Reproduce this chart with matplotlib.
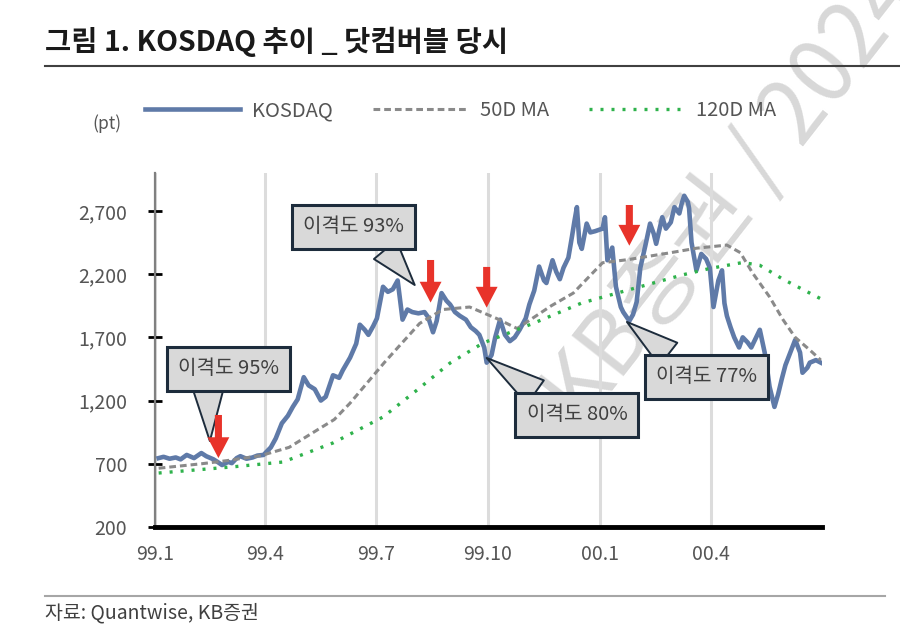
import numpy as np
import pandas as pd
import matplotlib
matplotlib.use('Agg')
import matplotlib.pyplot as plt
import matplotlib.dates as mdates
from matplotlib.lines import Line2D
from matplotlib.ticker import FuncFormatter

plt.rcParams['font.family'] = ['Noto Sans CJK KR', 'DejaVu Sans']

# KOSDAQ index (pt)
kosdaq_dates = [
    '1999-01-04', '1999-01-08', '1999-01-13', '1999-01-18', '1999-01-22', '1999-01-27',
    '1999-02-02', '1999-02-08', '1999-02-12', '1999-02-18', '1999-02-22', '1999-02-25',
    '1999-03-02', '1999-03-05', '1999-03-09', '1999-03-12', '1999-03-17', '1999-03-22',
    '1999-03-26', '1999-03-31', '1999-04-06', '1999-04-10', '1999-04-15', '1999-04-20',
    '1999-04-24', '1999-04-28', '1999-05-03', '1999-05-07', '1999-05-12', '1999-05-17',
    '1999-05-21', '1999-05-27', '1999-06-01', '1999-06-04', '1999-06-10', '1999-06-15',
    '1999-06-18', '1999-06-22', '1999-06-25', '1999-06-29', '1999-07-02', '1999-07-07',
    '1999-07-11', '1999-07-15', '1999-07-19', '1999-07-23', '1999-07-27', '1999-07-31',
    '1999-08-05', '1999-08-10', '1999-08-13', '1999-08-17', '1999-08-20', '1999-08-24',
    '1999-08-28', '1999-08-31', '1999-09-04', '1999-09-08', '1999-09-13', '1999-09-17',
    '1999-09-21', '1999-09-24', '1999-09-28', '1999-09-30', '1999-10-04', '1999-10-07',
    '1999-10-11', '1999-10-15', '1999-10-19', '1999-10-23', '1999-10-27', '1999-11-01',
    '1999-11-04', '1999-11-08', '1999-11-12', '1999-11-16', '1999-11-18', '1999-11-23',
    '1999-11-26', '1999-11-29', '1999-12-02', '1999-12-06', '1999-12-09', '1999-12-11',
    '1999-12-13', '1999-12-15', '1999-12-17', '1999-12-21', '1999-12-24', '1999-12-28',
    '2000-01-03', '2000-01-05', '2000-01-07', '2000-01-11', '2000-01-14', '2000-01-18',
    '2000-01-20', '2000-01-25', '2000-01-28', '2000-01-31', '2000-02-03', '2000-02-07',
    '2000-02-11', '2000-02-14', '2000-02-16', '2000-02-21', '2000-02-24', '2000-02-28',
    '2000-03-02', '2000-03-06', '2000-03-08', '2000-03-10', '2000-03-13', '2000-03-14',
    '2000-03-16', '2000-03-20', '2000-03-24', '2000-03-28', '2000-03-31', '2000-04-03',
    '2000-04-07', '2000-04-10', '2000-04-12', '2000-04-14', '2000-04-17', '2000-04-20',
    '2000-04-24', '2000-04-27', '2000-05-01', '2000-05-04', '2000-05-08', '2000-05-11',
    '2000-05-15', '2000-05-17', '2000-05-19', '2000-05-23', '2000-05-26', '2000-05-29',
    '2000-06-01', '2000-06-05', '2000-06-09', '2000-06-13', '2000-06-15', '2000-06-19',
    '2000-06-21', '2000-06-26', '2000-06-30',
]
kosdaq_vals = [
    745, 755, 740, 750, 735, 770,
    745, 785, 760, 735, 710, 690,
    715, 705, 745, 760, 740, 750,
    765, 770, 830, 900, 1020, 1080,
    1150, 1210, 1385, 1320, 1290, 1200,
    1230, 1400, 1380, 1440, 1540, 1650,
    1800, 1760, 1720, 1790, 1850, 2100,
    2060, 2080, 2150, 1840, 1920, 1900,
    1890, 1900, 1860, 1740, 1830, 2050,
    1990, 1960, 1900, 1870, 1840, 1780,
    1750, 1720, 1620, 1500, 1560, 1700,
    1840, 1720, 1670, 1700, 1760, 1850,
    1960, 2070, 2260, 2150, 2130, 2310,
    2220, 2160, 2250, 2330, 2500, 2620,
    2730, 2450, 2400, 2600, 2530, 2540,
    2560, 2650, 2310, 2410, 2100, 1940,
    1900, 1830, 1880, 1980, 2250, 2420,
    2600, 2520, 2440, 2650, 2560, 2610,
    2730, 2680, 2760, 2820, 2770, 2720,
    2450, 2230, 2360, 2320, 2250, 1940,
    2150, 2230, 1970, 1870, 1780, 1700,
    1620, 1700, 1660, 1620, 1700, 1760,
    1580, 1450, 1310, 1150, 1250, 1370,
    1480, 1580, 1680, 1580, 1420, 1460,
    1500, 1520, 1500,
]

# 50-day moving average
ma50_dates = [
    '1999-01-04', '1999-02-08', '1999-03-01', '1999-03-29', '1999-04-21', '1999-05-17',
    '1999-05-28', '1999-06-10', '1999-07-08', '1999-08-06', '1999-08-25', '1999-09-16',
    '1999-10-08', '1999-10-25', '1999-11-22', '1999-12-10', '1999-12-26', '2000-01-03',
    '2000-01-24', '2000-02-25', '2000-03-20', '2000-04-14', '2000-04-25', '2000-05-05',
    '2000-05-19', '2000-05-30', '2000-06-09', '2000-06-21', '2000-06-30',
]
ma50_vals = [
    665, 700, 725, 765, 830, 985,
    1050, 1180, 1500, 1810, 1920, 1940,
    1850, 1770, 1950, 2050, 2210, 2290,
    2315, 2365, 2405, 2430, 2370, 2210,
    2020, 1840, 1700, 1600, 1520,
]

# 120-day moving average
ma120_dates = [
    '1999-01-04', '1999-03-05', '1999-04-16', '1999-05-27', '1999-07-07', '1999-08-04',
    '1999-08-31', '1999-09-27', '1999-11-08', '1999-12-17', '2000-01-28', '2000-03-09',
    '2000-03-31', '2000-04-27', '2000-05-11', '2000-05-30', '2000-06-30',
]
ma120_vals = [
    627, 675, 714, 865, 1070, 1284,
    1497, 1655, 1814, 1972, 2085, 2195,
    2245, 2292, 2270, 2160, 2005,
]

tick_dates = ['1999-01-01', '1999-04-01', '1999-07-01', '1999-10-01', '2000-01-01', '2000-04-01']
tick_labels = ['99.1', '99.4', '99.7', '99.10', '00.1', '00.4']
y_ticks = [200, 700, 1200, 1700, 2200, 2700]

# callouts: label, text centre (date, pt), tip (date, pt), wedge attach point on box
callout_labels = ['이격도 95%', '이격도 93%', '이격도 80%', '이격도 77%']
callout_text_pos = [('1999-03-02', 1450), ('1999-06-13', 2573), ('1999-12-13', 1086), ('2000-03-28', 1387)]
callout_tip_pos = [('1999-02-15', 880), ('1999-08-02', 2114), ('1999-09-30', 1537), ('2000-01-23', 1822)]
callout_relpos = [(0.3, 0.0), (0.71, 0.0), (0.26, 1.0), (0.28, 1.0)]

# red down arrows: date, top, tip
arrow_dates = ['1999-02-22', '1999-08-15', '1999-09-30', '2000-01-25']
arrow_top = [1086, 2312, 2257, 2747]
arrow_tip = [745, 1975, 1935, 2425]


def to_num(dates):
    return mdates.date2num(pd.to_datetime(dates))


fig = plt.figure(figsize=(9, 6.42), dpi=100)
ax = fig.add_axes([155 / 900, 1 - 527 / 642, 667 / 900, 354 / 642])
ax.patch.set_visible(False)

l_k, = ax.plot(to_num(kosdaq_dates), kosdaq_vals, color='#5f7aa8', lw=3.3,
               solid_joinstyle='round', zorder=3, label='KOSDAQ')
l_50, = ax.plot(to_num(ma50_dates), ma50_vals, color='#8a8a8a', lw=2.2,
                dashes=(2.2, 1.3), zorder=4, label='50D MA')
l_120, = ax.plot(to_num(ma120_dates), ma120_vals, color='#2fb24c', lw=2.4,
                 dashes=(0.9, 2.4), zorder=4, label='120D MA')

ax.set_xlim(to_num(['1999-01-01'])[0], to_num(['2000-07-01'])[0])
ax.set_ylim(200, 3000)
ax.set_xticks(to_num(tick_dates))
ax.set_xticklabels(tick_labels)
ax.set_yticks(y_ticks)
ax.yaxis.set_major_formatter(FuncFormatter(lambda v, p: f'{int(v):,}'))
ax.xaxis.grid(True, color='#dcdcdc', lw=2.2, zorder=0)
ax.set_axisbelow(True)

ax.tick_params(axis='x', length=0, pad=12, labelsize=14, labelcolor='#555555')
ax.tick_params(axis='y', direction='inout', length=10, width=2, color='black',
               pad=15, labelsize=14, labelcolor='#555555')
for side in ['top', 'right']:
    ax.spines[side].set_visible(False)
ax.spines['left'].set_color('#808080')
ax.spines['left'].set_linewidth(1.6)
ax.spines['bottom'].set_color('black')
ax.spines['bottom'].set_linewidth(3.5)

# callout boxes
for lab, tpos, tip, rp in zip(callout_labels, callout_text_pos, callout_tip_pos, callout_relpos):
    ax.annotate(lab, xy=(to_num([tip[0]])[0], tip[1]), xytext=(to_num([tpos[0]])[0], tpos[1]),
                ha='center', va='center', fontsize=14.5, color='#404040', zorder=6,
                bbox=dict(boxstyle='square,pad=0.55', fc='#d9d9d9', ec='#1d2c3c', lw=2.2),
                arrowprops=dict(arrowstyle='wedge,tail_width=1.45,shrink_factor=0.5',
                                fc='#d9d9d9', ec='#1d2c3c', lw=1.4, relpos=rp,
                                shrinkA=0, shrinkB=0))

# red arrows
for d, top, tip in zip(arrow_dates, arrow_top, arrow_tip):
    xd = to_num([d])[0]
    ax.annotate('', xy=(xd, tip), xytext=(xd, top), zorder=7,
                arrowprops=dict(arrowstyle='simple,head_length=1.0,head_width=1.05,tail_width=0.34',
                                fc='#e8332a', ec='none', mutation_scale=15,
                                shrinkA=0, shrinkB=0))

# legend and unit
fig.legend(handles=[l_k, l_50, l_120], loc='center left', bbox_to_anchor=(145 / 900, 1 - 111 / 642),
           ncol=3, frameon=False, handlelength=4.7, handletextpad=0.6, columnspacing=2.0,
           borderpad=0, borderaxespad=0, fontsize=14.5, labelcolor='#555555')
fig.text(92 / 900, 1 - 124 / 642, '(pt)', fontsize=12.5, color='#555555', va='center')

# title and frame lines
fig.text(45 / 900, 1 - 42 / 642, '그림 1. KOSDAQ 추이 _ 닷컴버블 당시', fontsize=20.5,
         fontweight='bold', color='#1a1a1a', va='center')
fig.add_artist(Line2D([45 / 900, 1.0], [1 - 66 / 642] * 2, color='#404040', lw=1.5))
fig.add_artist(Line2D([45 / 900, 885 / 900], [1 - 596 / 642] * 2, color='#a6a6a6', lw=1.5))
fig.text(45 / 900, 1 - 613 / 642, '자료: Quantwise, KB증권', fontsize=14, color='#404040', va='center')

# watermark
fig.text(583 / 900, 1 - 428 / 642, 'KB증권 / 2024', rotation=52, rotation_mode='anchor',
         ha='left', va='baseline', fontsize=64, color='#d8d8d8', fontweight=300, zorder=-5)

fig.savefig('out.png', dpi=100)
